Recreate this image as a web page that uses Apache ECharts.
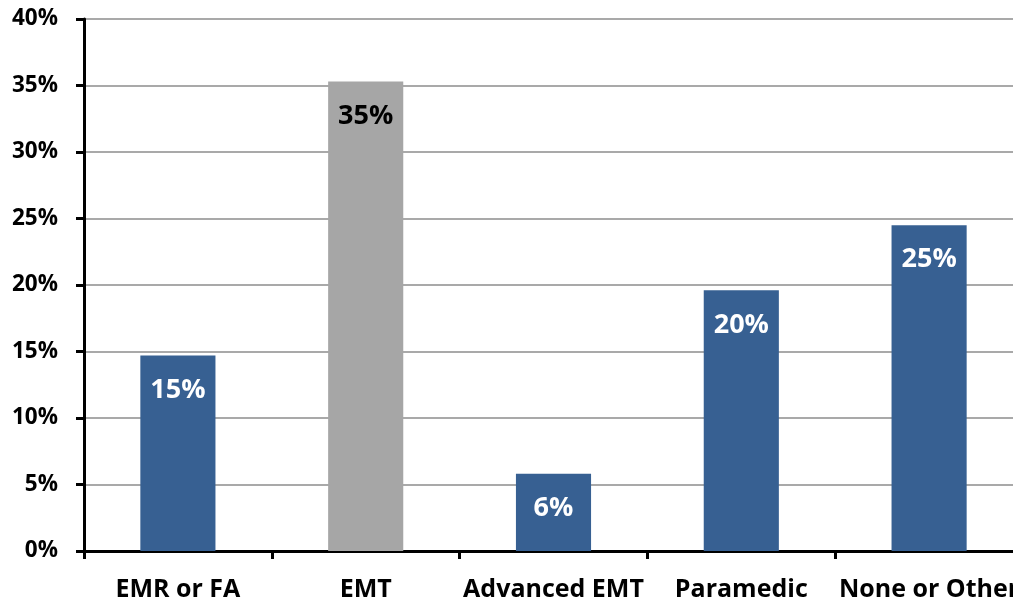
<!DOCTYPE html>
<html>
<head>
<meta charset="utf-8">
<script src="https://cdn.jsdelivr.net/npm/echarts@6/dist/echarts.min.js"></script>
<style>
  html, body { margin: 0; padding: 0; background: #fff; }
  #chart { width: 1013px; height: 605px; }
</style>
</head>
<body>
<div id="chart"></div>
<script>
// Certification level distribution (percent of respondents)
const categories = ['EMR or FA', 'EMT', 'Advanced EMT', 'Paramedic', 'None or Other'];
const shares = [14.7, 35.3, 5.8, 19.6, 24.5];
const yTicks = [0, 5, 10, 15, 20, 25, 30, 35, 40];

const BLUE = '#376092';
const GRAY = '#a6a6a6';
const highlightIndex = 1;
const FONT = 'Open Sans';

const chart = echarts.init(document.getElementById('chart'));

const bars = shares.map((v, i) => ({
  value: v,
  itemStyle: { color: i === highlightIndex ? GRAY : BLUE },
  label: { color: i === highlightIndex ? '#000' : '#fff' }
}));

chart.setOption({
  animation: false,
  backgroundColor: '#fff',
  textStyle: { fontFamily: FONT },
  grid: {
    left: 84, top: 19, width: 939, bottom: 54,
    containLabel: false,
    outerBoundsMode: 'none'
  },
  xAxis: {
    type: 'category',
    data: categories,
    boundaryGap: true,
    axisLine: { show: true, lineStyle: { color: '#000', width: 3 } },
    axisTick: { show: true, length: 8, inside: false, lineStyle: { color: '#000', width: 3 } },
    axisLabel: { color: '#000', fontSize: 25, fontWeight: 'bold', fontFamily: FONT, margin: 26, interval: 0, hideOverlap: false },
    splitLine: { show: false }
  },
  yAxis: {
    type: 'value',
    min: yTicks[0],
    max: yTicks[yTicks.length - 1],
    interval: yTicks[1] - yTicks[0],
    axisLine: { show: true, lineStyle: { color: '#000', width: 3 } },
    axisTick: { show: true, length: 8, lineStyle: { color: '#000', width: 3 } },
    axisLabel: { color: '#000', fontSize: 22.5, fontWeight: 'bold', fontFamily: FONT, margin: 26, formatter: v => v + '%' },
    splitLine: { show: true, lineStyle: { color: '#8c8c8c', width: 1.5 } }
  },
  series: [{
    type: 'bar',
    data: bars,
    barWidth: '40%',
    label: {
      show: true,
      position: 'insideTop',
      distance: 21,
      fontSize: 27,
      fontWeight: 'bold',
      fontFamily: FONT,
      formatter: p => Math.round(p.value) + '%'
    }
  }]
});
</script>
</body>
</html>
